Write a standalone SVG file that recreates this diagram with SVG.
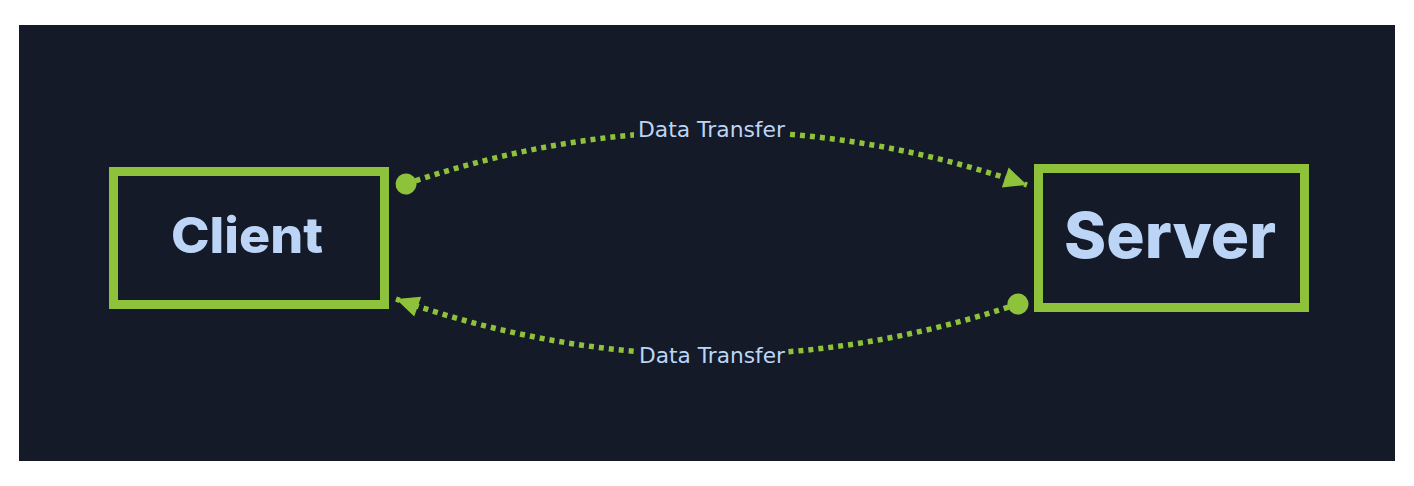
<svg xmlns="http://www.w3.org/2000/svg" width="1414" height="486" viewBox="0 0 1414 486">
<style>
.node{fill:none;stroke:#8fc23b;stroke-width:9}
.ntext{fill:#bcd5f6;font-family:Inter,"Liberation Sans",sans-serif;font-weight:800;text-anchor:middle}
.conn{fill:none;stroke:#8fc23b;stroke-width:5.5;stroke-dasharray:5 5}
.lbl{fill:#bcd5f6;font-family:"DejaVu Sans",sans-serif;font-size:21.5px;text-anchor:middle}
.lblbg{fill:#141a27}
</style>
<defs>
<marker id="dot" viewBox="0 0 24 24" refX="12" refY="12" markerWidth="24" markerHeight="24" markerUnits="userSpaceOnUse" orient="auto">
<circle cx="12" cy="12" r="10.5" fill="#8fc23b"/>
</marker>
<marker id="arr" viewBox="0 0 26 26" refX="24" refY="13" markerWidth="26" markerHeight="26" markerUnits="userSpaceOnUse" orient="auto">
<path d="M1,2.5 L24,13 L1,23.5 Z" fill="#8fc23b"/>
</marker>
</defs>
<rect x="0" y="0" width="1414" height="486" fill="#ffffff"/>
<rect x="19" y="25" width="1376" height="436" fill="#141a27"/>
<g id="connectors">
<path class="conn" d="M406,184 Q716,78 1027,185" marker-start="url(#dot)" marker-end="url(#arr)"/>
<path class="conn" d="M1018,304 Q707,408 396,299" marker-start="url(#dot)" marker-end="url(#arr)"/>
<rect class="lblbg" x="634" y="117" width="154" height="26"/>
<text class="lbl" x="711.5" y="137" textLength="147" lengthAdjust="spacingAndGlyphs">Data Transfer</text>
<rect class="lblbg" x="634" y="343" width="154" height="26"/>
<text class="lbl" x="712" y="363" textLength="146" lengthAdjust="spacingAndGlyphs">Data Transfer</text>
</g>
<g id="client">
<rect class="node" x="113.5" y="171.5" width="271" height="133"/>
<text class="ntext" x="247" y="253" font-size="50" textLength="152" lengthAdjust="spacingAndGlyphs">Client</text>
</g>
<g id="server">
<rect class="node" x="1038.5" y="168.5" width="266" height="139"/>
<text class="ntext" x="1170" y="258" font-size="63" textLength="212" lengthAdjust="spacingAndGlyphs">Server</text>
</g>
</svg>
